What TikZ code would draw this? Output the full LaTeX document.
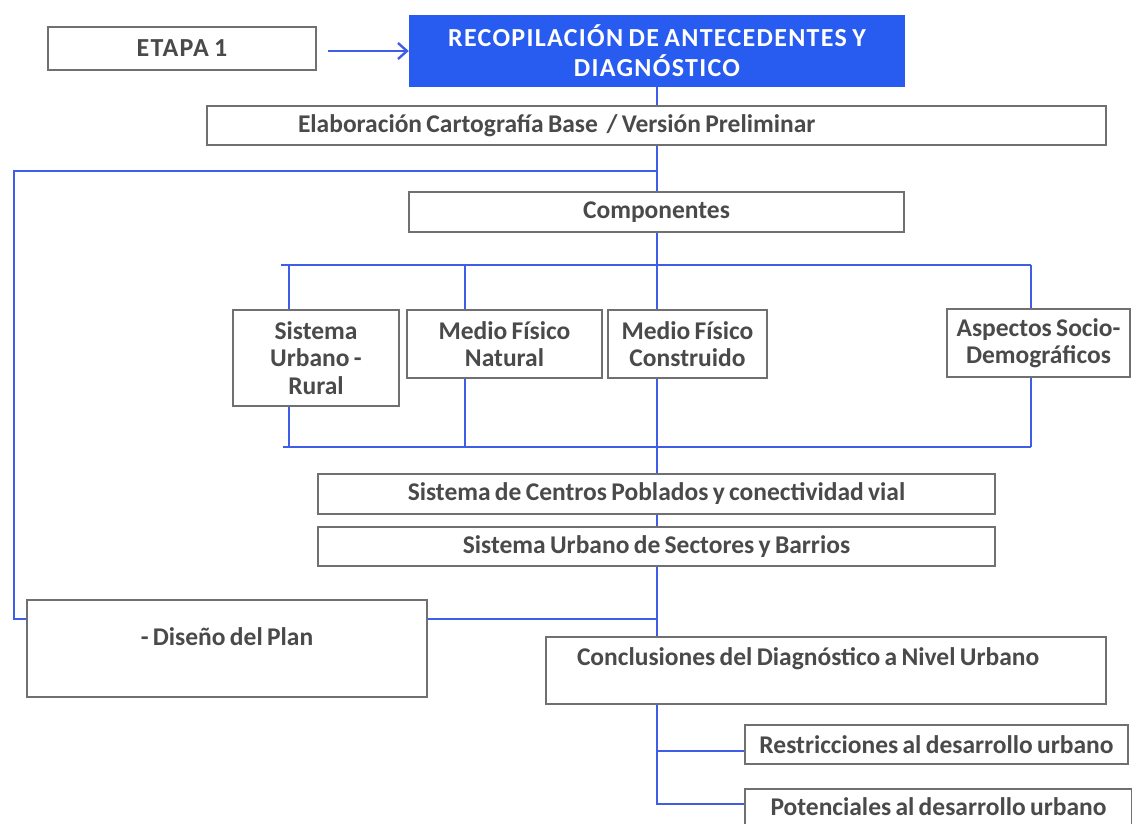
\documentclass[tikz,border=0pt]{standalone}
\usepackage{fontspec}
\setmainfont{Carlito}[WordSpace=0.75]
\usetikzlibrary{arrows.meta,calc}

\definecolor{etblue}{RGB}{40,92,240}
\definecolor{lnblue}{RGB}{62,94,232}
\definecolor{bxgray}{RGB}{112,112,112}
\definecolor{txgray}{RGB}{74,74,74}

\begin{document}
\begin{tikzpicture}[x=1pt,y=-1pt,
  font=\fontsize{25.5}{27.5}\selectfont\bfseries,
  bx/.style={draw=bxgray,line width=2.2pt,fill=white,text=txgray,align=center,inner sep=0pt},
  hdr/.style={fill=etblue,text=white,align=center,inner sep=0pt},
  caps/.style={font=\fontsize{26}{30}\selectfont\bfseries\addfontfeature{LetterSpace=5}},
  ln/.style={lnblue,line width=2.8pt},
  ar/.style={ln,-{Straight Barb[length=9pt,width=16pt,line width=2.4pt]}},
]
\clip (0,0) rectangle (1132,823);

% stage header
\node[bx,caps,minimum width=268pt,minimum height=43pt] (etapa) at (182,48.5) {ETAPA 1};
\node[hdr,caps,minimum width=496pt,minimum height=72pt] (recop) at (657,51)
  {RECOPILACIÓN DE ANTECEDENTES Y\\[0pt]DIAGNÓSTICO};
\node[bx,minimum width=899pt,minimum height=39pt,text width=717pt,align=flush left] (elab) at (656.5,125.5)
  {Elaboración Cartografía Base\ \ / Versión Preliminar};
\node[bx,minimum width=495pt,minimum height=40pt] (comp) at (656.5,212) {Componentes};

% components
\node[bx,minimum width=166pt,minimum height=96pt] (sist) at (316,358) {Sistema\\Urbano -\\Rural};
\node[bx,minimum width=195pt,minimum height=68pt] (nat) at (504.5,344) {Medio Físico\\Natural};
\node[bx,minimum width=159pt,minimum height=68pt] (cons) at (687.5,344) {Medio Físico\\Construido};
\node[bx,minimum width=183pt,minimum height=68pt] (asp) at (1038.5,343) {Aspectos Socio-\\Demográficos};

% systems
\node[bx,minimum width=677pt,minimum height=40pt] (centros) at (656.5,494)
  {Sistema de Centros Poblados y conectividad vial};
\node[bx,minimum width=677pt,minimum height=39pt] (barrios) at (656.5,546.5)
  {Sistema Urbano de Sectores y Barrios};

% plan and conclusions
\node[bx,minimum width=400pt,text height=45.5pt,text depth=51.5pt] (diseno) at (227,648.5) {- Diseño del Plan};
\node[bx,minimum width=560pt,text width=498pt,align=flush left,text height=28.5pt,text depth=38.5pt] (concl) at (826,670.5)
  {Conclusiones del Diagnóstico a Nivel Urbano};
\node[bx,minimum width=383pt,minimum height=39pt] (restr) at (936.5,744.5) {Restricciones al desarrollo urbano};
\node[bx,minimum width=387pt,text height=26.5pt,text depth=34.5pt] (poten) at (938.5,819.5) {Potenciales al desarrollo urbano};

% junctions
\coordinate (jfb) at (657,171);
\coordinate (fbA) at (14,171);
\coordinate (fbB) at (14,619);
\coordinate (bl) at (281,265);  \coordinate (br) at (1031,265);
\coordinate (ql) at (283,447);  \coordinate (qr) at (1031,447);
\coordinate (jr) at (657,751);
\coordinate (jp) at (657,804);

% connectors
\draw[ar,shorten <=11pt] (etapa.east |- recop.west) -- (recop.west);
\draw[ln] (recop.south) -- (elab.north -| recop.south);
\draw[ln] (elab.south -| recop.south) -- (comp.north -| recop.south);
\draw[ln] (jfb) -- (fbA) -- (fbB) -- (fbB -| diseno.west);
\draw[ln] (comp.south -| recop.south) -- (cons.north -| recop.south);
\draw[ln] (bl) -- (br);
\draw[ln] (ql) -- (qr);
\foreach \x/\n in {289/sist,465/nat,1031/asp}{
  \coordinate (t-\n) at (\x,265);
  \coordinate (b-\n) at (\x,447);
  \draw[ln] (t-\n) -- (t-\n |- \n.north);
  \draw[ln] (b-\n |- \n.south) -- (b-\n);
}
\draw[ln] (cons.south -| recop.south) -- (centros.north -| recop.south);
\draw[ln] (centros.south -| recop.south) -- (barrios.north -| recop.south);
\draw[ln] (barrios.south -| recop.south) -- (concl.north -| recop.south);
\draw[ln] (diseno.east |- fbB) -- (fbB -| recop.south);
\draw[ln] (concl.south -| jp) -- (jp) -- (jp -| poten.west);
\draw[ln] (jr) -- (jr -| restr.west);
\end{tikzpicture}
\end{document}
